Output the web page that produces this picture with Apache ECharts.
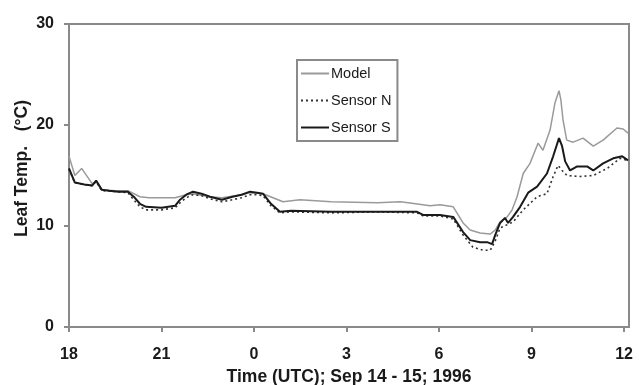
<!DOCTYPE html>
<html>
<head>
<meta charset="utf-8">
<script src="https://cdn.jsdelivr.net/npm/echarts@6/dist/echarts.min.js"></script>
<style>
html,body{margin:0;padding:0;background:#fff;}
#c{width:639px;height:385px;}
</style>
</head>
<body>
<div id="c"></div>
<script>
// hours since 18:00 UTC, Sep 14
const xTickValues = [0, 3, 6, 9, 12, 15, 18];
const xTickLabels = ['18', '21', '0', '3', '6', '9', '12'];
const yTickValues = [0, 10, 20, 30];

const modelTime = [0,0.19,0.41,0.75,0.88,1.06,1.5,1.91,2.30,2.6,3.44,3.8,4.02,4.57,4.96,5.4,5.87,6.29,6.94,7.49,8.5,10.0,10.74,11.0,11.71,12.03,12.46,12.78,13.01,13.33,13.66,13.82,13.98,14.21,14.37,14.53,14.73,14.95,15.21,15.37,15.60,15.76,15.89,15.95,16.02,16.14,16.35,16.67,17.00,17.32,17.77,17.97,18.13];
const modelTemp = [16.9,15.0,15.7,14.2,14.4,13.6,13.5,13.5,12.9,12.8,12.8,13.1,13.2,12.9,12.8,13.0,13.3,13.2,12.4,12.6,12.4,12.3,12.4,12.3,12.0,12.1,11.9,10.3,9.6,9.3,9.2,9.6,10.4,10.9,11.6,12.9,15.2,16.2,18.2,17.5,19.5,22.2,23.4,22.5,20.5,18.5,18.3,18.7,17.9,18.5,19.7,19.6,19.2];

const sensorNTime = [0,0.19,0.5,0.75,0.88,1.06,1.6,1.91,2.1,2.30,2.5,3.0,3.44,3.6,3.8,4.02,4.3,4.57,4.96,5.3,5.6,5.87,6.1,6.29,6.55,6.84,7.2,8.5,10.0,11.29,11.48,12.03,12.46,12.78,13.10,13.43,13.66,13.82,13.98,14.40,14.73,15.18,15.50,15.70,15.86,15.99,16.15,16.57,17.00,17.45,17.87,18.13];
const sensorNTemp = [15.6,14.3,14.1,14.0,14.4,13.5,13.4,13.3,12.6,11.9,11.6,11.6,11.8,12.3,12.8,13.1,13.0,12.7,12.4,12.6,12.8,13.1,13.1,13.0,12.0,11.3,11.4,11.3,11.4,11.3,11.0,11.0,10.7,9.1,7.9,7.6,7.6,8.5,9.8,10.4,11.6,12.9,13.2,14.9,16.0,15.5,15.0,14.9,15.0,15.7,16.7,16.5];

const sensorSTime = [0,0.19,0.5,0.75,0.88,1.06,1.3,1.6,1.91,2.1,2.30,2.5,3.0,3.44,3.6,3.8,4.02,4.3,4.57,4.96,5.3,5.6,5.87,6.1,6.29,6.55,6.84,7.2,8.5,10.0,11.29,11.48,12.03,12.46,12.78,13.01,13.33,13.56,13.72,13.82,13.98,14.14,14.24,14.40,14.63,14.89,15.18,15.50,15.70,15.89,15.99,16.09,16.25,16.48,16.80,17.00,17.32,17.65,17.94,18.13];
const sensorSTemp = [15.7,14.3,14.1,14.0,14.5,13.6,13.5,13.4,13.4,12.9,12.2,11.9,11.8,12.0,12.6,13.1,13.4,13.2,12.9,12.6,12.9,13.1,13.4,13.3,13.2,12.2,11.4,11.5,11.4,11.4,11.4,11.1,11.1,10.9,9.4,8.6,8.4,8.4,8.2,9.1,10.3,10.8,10.3,10.9,11.9,13.3,13.9,15.2,16.9,18.7,17.9,16.4,15.5,15.9,15.9,15.5,16.2,16.7,16.9,16.5];

const zip = (a, b) => a.map((t, i) => [t, b[i]]);

const chart = echarts.init(document.getElementById('c'), null, {renderer: 'canvas'});
const axisGray = '#8a8a8a';
const fam = 'Liberation Sans, Arial, sans-serif';
const labelFont = {fontFamily: fam, fontWeight: 'bold', fontSize: 16, color: '#1a1a1a'};
const titleFont = {fontFamily: fam, fontWeight: 'bold', fontSize: 17.5, color: '#1a1a1a'};

chart.setOption({
  animation: false,
  backgroundColor: '#fff',
  grid: {left: 69, top: 24, right: 10, bottom: 58, containLabel: false, outerBoundsMode: 'none', show: true, borderColor: axisGray, borderWidth: 2, backgroundColor: 'transparent'},
  legend: {
    orient: 'vertical',
    left: 297,
    top: 60,
    width: 115,
    padding: [6, 6, 6, 3],
    itemGap: 12,
    itemWidth: 28,
    itemHeight: 14,
    borderColor: axisGray,
    borderWidth: 2,
    backgroundColor: '#fff',
    itemStyle: {opacity: 0},
    textStyle: {fontFamily: fam, fontSize: 14.5, color: '#1a1a1a', padding: [0, 0, 0, -3]},
    data: ['Model', 'Sensor N', 'Sensor S']
  },
  xAxis: {
    type: 'value',
    min: 0,
    max: 18.16,
    name: 'Time (UTC); Sep 14 - 15; 1996',
    nameLocation: 'middle',
    nameGap: 40,
    nameTextStyle: titleFont,
    axisLine: {show: true, onZero: false, lineStyle: {color: axisGray, width: 2}},
    axisTick: {show: true, length: 5, customValues: xTickValues, lineStyle: {color: axisGray, width: 2}},
    axisLabel: {
      ...labelFont,
      margin: 20,
      customValues: xTickValues,
      formatter: v => {
        const i = xTickValues.findIndex(x => Math.abs(x - v) < 1e-6);
        return i >= 0 ? xTickLabels[i] : '';
      }
    },
    splitLine: {show: false}
  },
  yAxis: {
    type: 'value',
    min: 0,
    max: 30,
    interval: 10,
    name: 'Leaf Temp.   (°C)',
    nameLocation: 'middle',
    nameGap: 38,
    nameMoveOverlap: false,
    nameRotate: 90,
    nameTextStyle: {...titleFont, padding: [0, 0, 0, 14]},
    axisLine: {show: true, lineStyle: {color: axisGray, width: 2}},
    axisTick: {show: true, length: 5, lineStyle: {color: axisGray, width: 2}},
    axisLabel: {...labelFont, margin: 15},
    splitLine: {show: false}
  },
  series: [
    {
      name: 'Model', type: 'line', symbol: 'none', data: zip(modelTime, modelTemp),
      lineStyle: {color: '#9a9a9a', width: 1.5}, itemStyle: {color: '#9a9a9a'}, z: 2
    },
    {
      name: 'Sensor N', type: 'line', symbol: 'none', data: zip(sensorNTime, sensorNTemp),
      lineStyle: {color: '#333', width: 1.6, type: [2, 3]}, itemStyle: {color: '#333'}, z: 3
    },
    {
      name: 'Sensor S', type: 'line', symbol: 'none', data: zip(sensorSTime, sensorSTemp),
      lineStyle: {color: '#1a1a1a', width: 2}, itemStyle: {color: '#1a1a1a'}, z: 4
    }
  ]
});
</script>
</body>
</html>
